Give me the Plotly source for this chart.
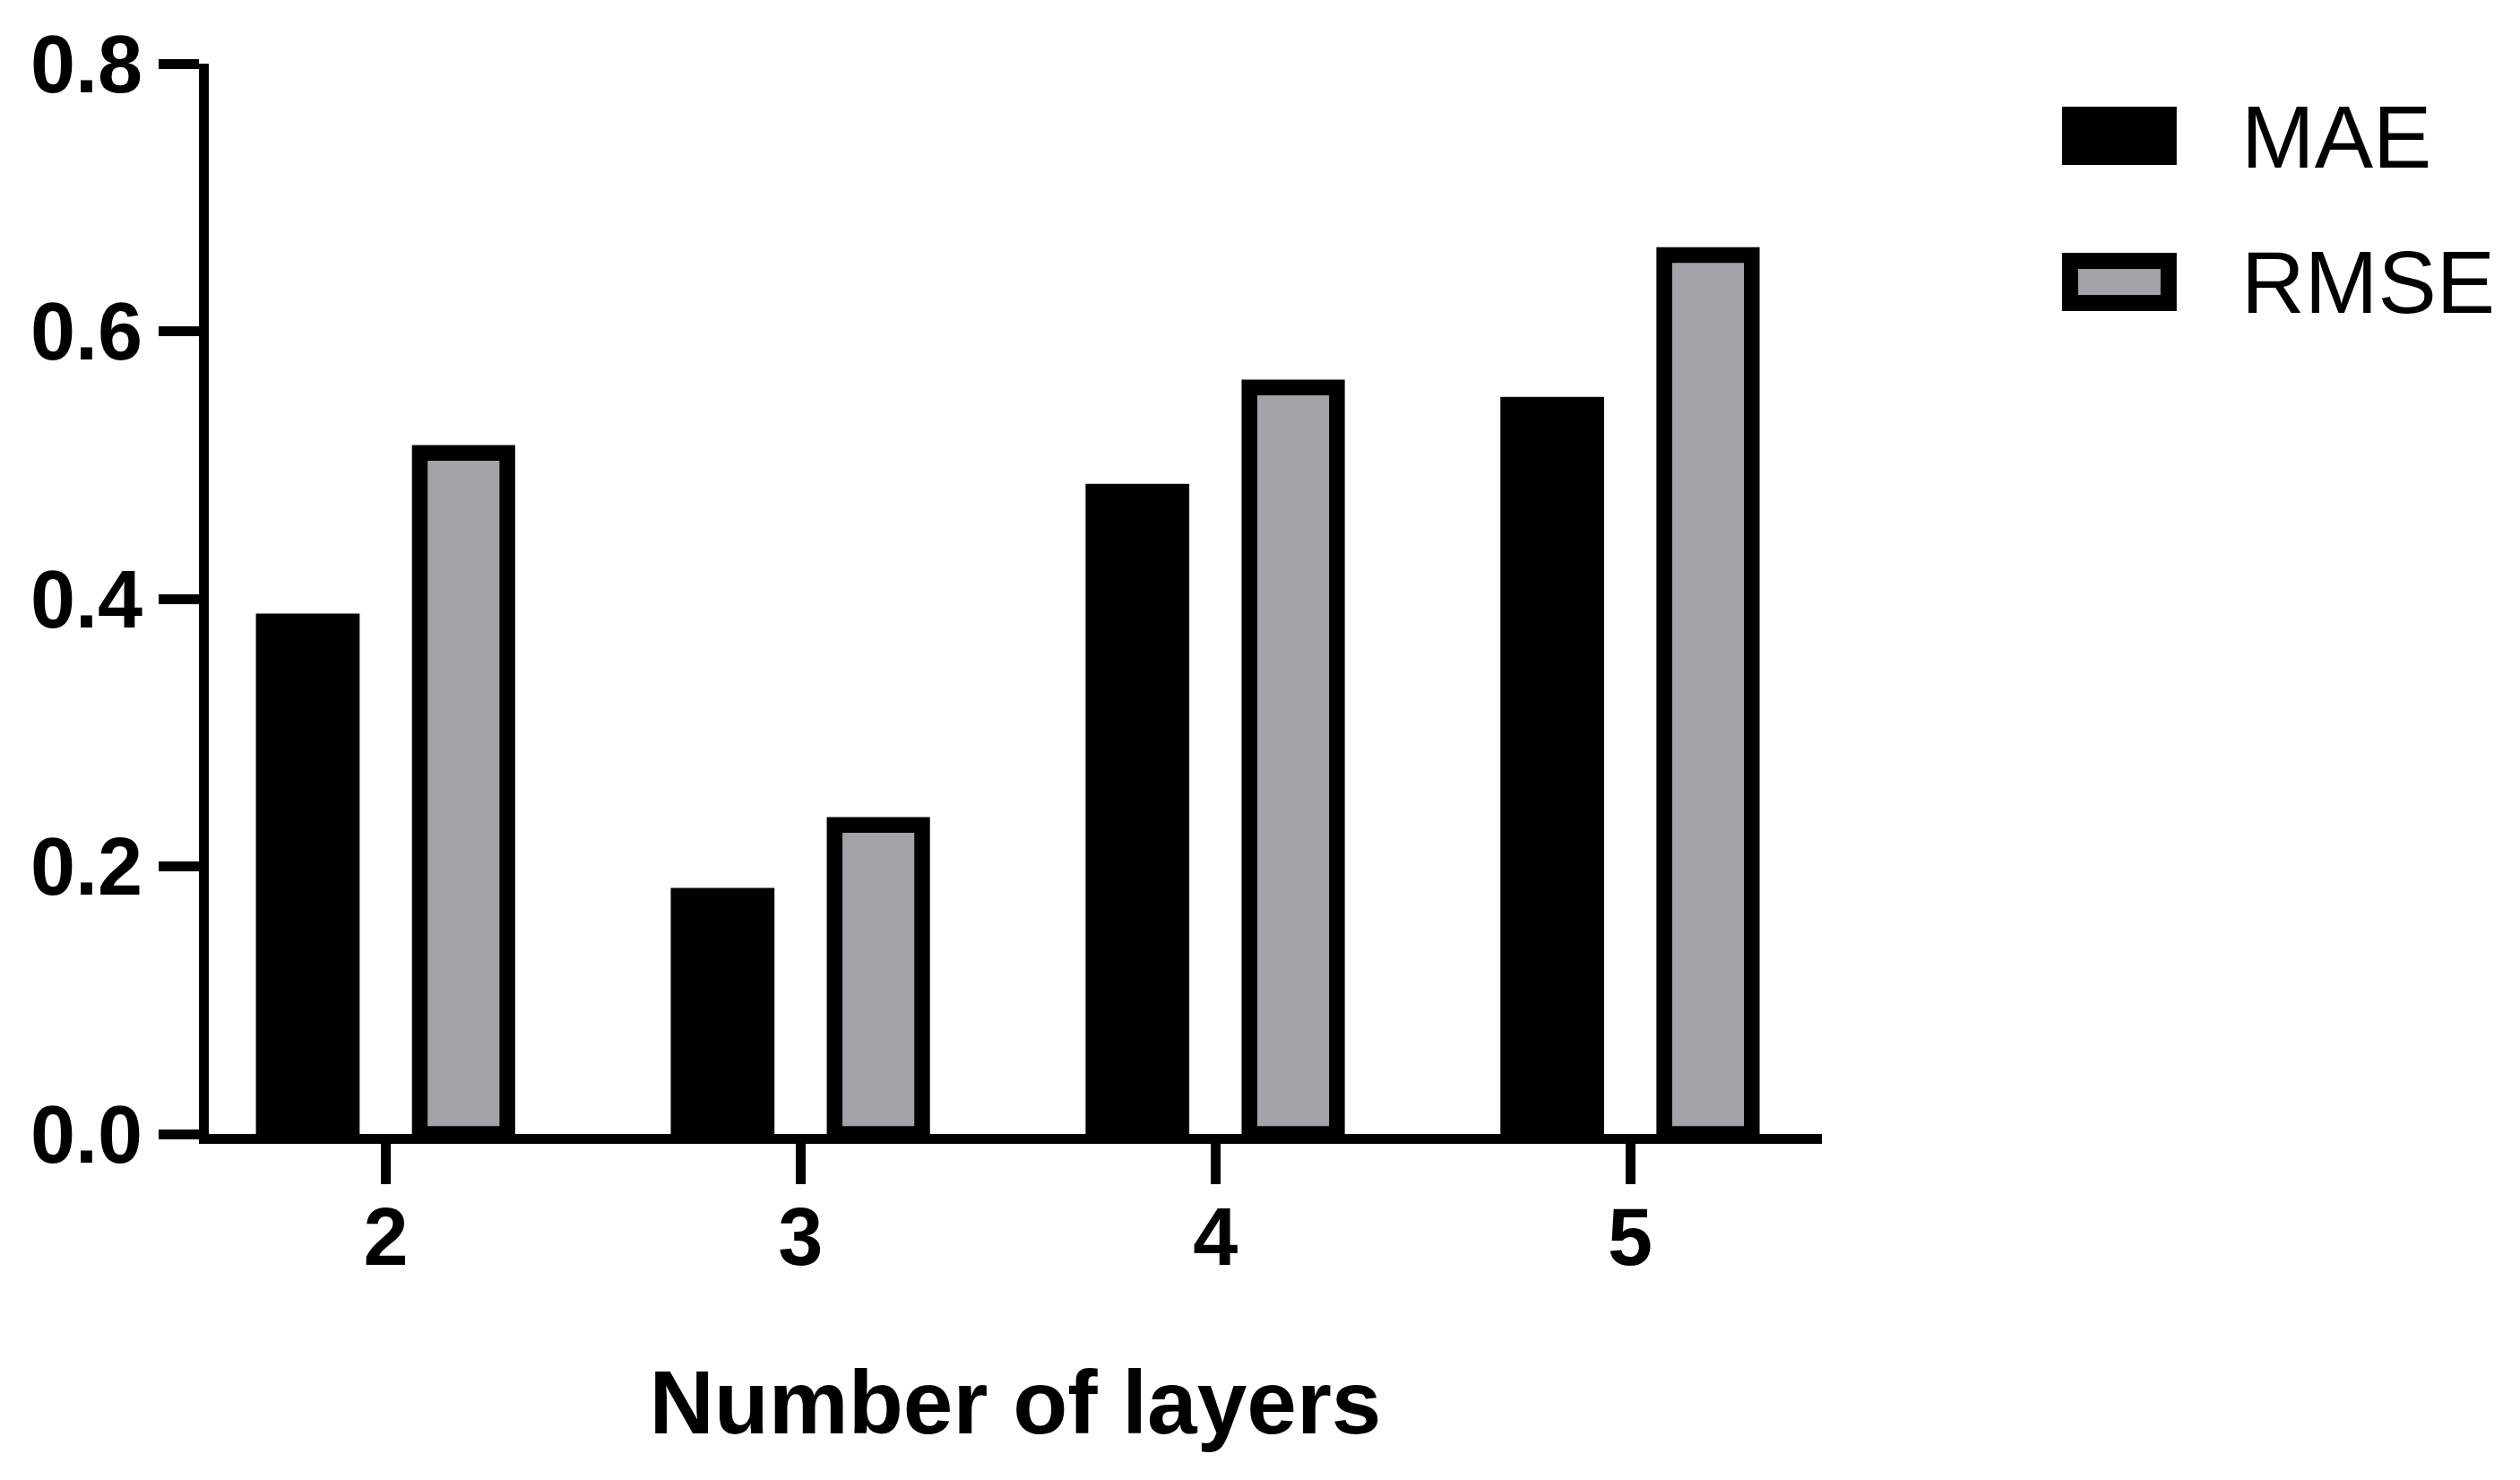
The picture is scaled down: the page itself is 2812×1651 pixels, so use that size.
import plotly.graph_objects as go

# data
layers = [2, 3, 4, 5]
mae = [0.389, 0.184, 0.486, 0.551]
rmse = [0.509, 0.231, 0.558, 0.657]
series_names = ["MAE", "RMSE"]
y_ticks = [0.0, 0.2, 0.4, 0.6, 0.8]

_FONT = "Arial, 'Liberation Sans', Helvetica, sans-serif"
_BLACK = "#000000"
_GRAY = "#a3a2a7"

# the page body keeps its default 8px margin, so work in page pixels and
# subtract it when building the figure
OFF = 8
W, H = 2812 - OFF, 1651 - OFF
L, R, T, B = 232.5 - OFF, 2033 - OFF, 71 - OFF, 1265 - OFF
LW = 11                               # axis / tick stroke


def _px(x, y):
    """page pixel -> paper coords (only used for the hand-drawn legend)"""
    return (x - OFF - L) / (R - L), (B - (y - OFF)) / (B - T)


fig = go.Figure()
fig.add_trace(go.Bar(
    x=layers, y=mae, name=series_names[0],
    width=0.25, offset=-0.313,
    marker=dict(color=_BLACK, line=dict(width=0)),
    showlegend=False,
))
fig.add_trace(go.Bar(
    x=layers, y=rmse, name=series_names[1],
    width=0.211, offset=0.082,
    marker=dict(color=_GRAY, line=dict(color=_BLACK, width=17.5)),
    showlegend=False,
))

axis_common = dict(
    showgrid=False, zeroline=False,
    showline=True, linewidth=LW, linecolor=_BLACK,
    ticks="outside", ticklen=45, tickwidth=LW, tickcolor=_BLACK,
    tickfont=dict(family=_FONT, size=90, color=_BLACK, weight="bold"),
)

fig.update_layout(
    width=W, height=H, autosize=False,
    paper_bgcolor="white", plot_bgcolor="white",
    margin=dict(l=L, r=W - R, t=T, b=H - B, pad=0),
    barmode="overlay",
    font=dict(family=_FONT, color=_BLACK),
    xaxis=dict(
        range=[1.5734, 5.462], tickvals=layers, ticktext=[str(v) for v in layers],
        ticklabelstandoff=-18,
        title=dict(text="Number of layers", standoff=104,
                   font=dict(family=_FONT, size=100, color=_BLACK, weight="bold")),
        **axis_common,
    ),
    yaxis=dict(
        range=[0, 0.8], tickvals=y_ticks, ticktext=[f"{v:.1f}" for v in y_ticks],
        **axis_common,
    ),
)

# legend drawn by hand so the swatches can be as large as in the original
x0, y0 = _px(2301, 119)
x1, y1 = _px(2429, 184)
fig.add_shape(type="rect", xref="paper", yref="paper", x0=x0, y0=y0, x1=x1, y1=y1,
              fillcolor=_BLACK, line=dict(width=0))
x0, y0 = _px(2310, 291)
x1, y1 = _px(2420, 338)
fig.add_shape(type="rect", xref="paper", yref="paper", x0=x0, y0=y0, x1=x1, y1=y1,
              fillcolor=_GRAY, line=dict(color=_BLACK, width=18))

for name, ypix in zip(series_names, [153, 315]):
    ax, ay = _px(2499, ypix)
    fig.add_annotation(x=ax, y=ay, xref="paper", yref="paper", text=name,
                       showarrow=False, xanchor="left", yanchor="middle",
                       font=dict(family=_FONT, size=98, color=_BLACK))

fig.write_html("out.html")
